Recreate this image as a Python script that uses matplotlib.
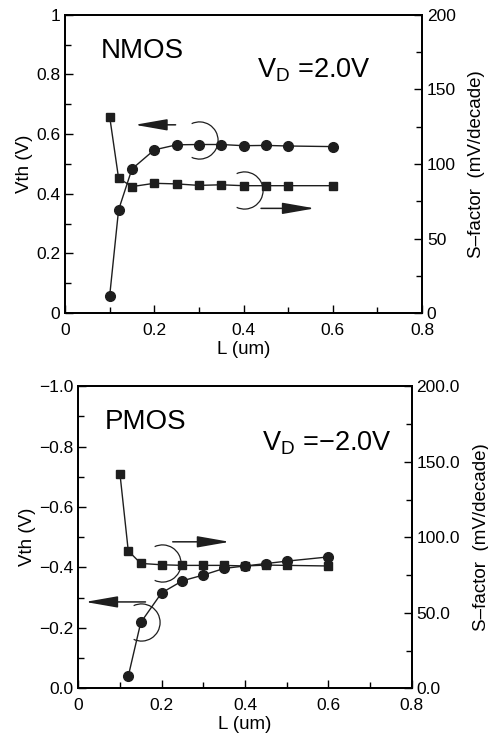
import matplotlib
matplotlib.use("Agg")
import matplotlib.pyplot as plt
from matplotlib.path import Path
from matplotlib.ticker import MultipleLocator, FormatStrFormatter

plt.rcParams['font.family'] = ['Liberation Sans', 'DejaVu Sans']
plt.rcParams['mathtext.default'] = 'regular'

# NMOS data
L_n = [0.1, 0.12, 0.15, 0.2, 0.25, 0.3, 0.35, 0.4, 0.45, 0.5, 0.6]
vth_n = [0.057, 0.346, 0.483, 0.547, 0.564, 0.565, 0.565, 0.561, 0.562, 0.560, 0.558]
s_n = [131.7, 90.4, 84.8, 87.0, 86.6, 85.6, 86.0, 85.4, 85.4, 85.4, 85.4]

# PMOS data
L_p_vth = [0.12, 0.15, 0.2, 0.25, 0.3, 0.35, 0.4, 0.45, 0.5, 0.6]
vth_p = [-0.04, -0.218, -0.316, -0.356, -0.375, -0.397, -0.405, -0.413, -0.421, -0.435]
L_p_s = [0.1, 0.12, 0.15, 0.2, 0.25, 0.3, 0.35, 0.4, 0.45, 0.5, 0.6]
s_p = [142.2, 91.0, 82.7, 81.8, 81.4, 81.4, 81.4, 81.0, 81.6, 81.4, 81.0]

col = '#1e1e1e'
arc = Path.arc(-115, 115)
MINUS = '\u2212'

fig = plt.figure(figsize=(4.89, 7.35), dpi=100)


def style(ax, ax2):
    for a in (ax, ax2):
        for s in a.spines.values():
            s.set_linewidth(1.3)
    ax.tick_params(which='both', direction='in', top=False, right=False, labelsize=12.5)
    ax.tick_params(which='major', length=6, width=1)
    ax.tick_params(which='minor', length=4, width=1)
    ax.tick_params(axis='x', pad=7)
    ax2.tick_params(which='both', direction='in', labelsize=12.5)
    ax2.tick_params(which='major', length=6, width=1)
    ax2.tick_params(which='minor', length=4, width=1)
    ax.set_xlim(0, 0.8)
    ax.xaxis.set_major_locator(MultipleLocator(0.2))
    ax.xaxis.set_minor_locator(MultipleLocator(0.1))
    ax.xaxis.set_major_formatter(lambda v, p: '0' if v == 0 else '%.1f' % v)
    ax.set_xlabel('L (um)', fontsize=13.5, labelpad=2)
    ax.set_ylabel('Vth (V)', fontsize=13.5, labelpad=2)
    ax2.set_ylabel('S\u2013factor  (mV/decade)', fontsize=13.5, labelpad=9)


# ---- NMOS ----
ax = fig.add_axes([0.133, 0.574, 0.730, 0.406])
ax2 = ax.twinx()
ax.plot(L_n, vth_n, '-o', color=col, lw=1, ms=7)
ax2.plot(L_n, s_n, '-s', color=col, lw=1, ms=6)
ax.set_ylim(0, 1)
ax.yaxis.set_major_locator(MultipleLocator(0.2))
ax.yaxis.set_minor_locator(MultipleLocator(0.1))
ax.yaxis.set_major_formatter(lambda v, p: '%g' % round(v, 1))
ax2.set_ylim(0, 200)
ax2.yaxis.set_major_locator(MultipleLocator(50))
ax2.yaxis.set_minor_locator(MultipleLocator(25))
style(ax, ax2)
ax.text(0.08, 0.88, 'NMOS', fontsize=20, va='center', ha='left')
ax.text(0.43, 0.815, r'$V_D$ =2.0V', fontsize=19.5, va='center', ha='left')
ax.plot(L_n[5], vth_n[5] + 0.015, marker=arc, ms=27, mfc='none', mec=col, mew=0.9)
ax2.plot(L_n[7], s_n[7] - 3, marker=arc, ms=27, mfc='none', mec=col, mew=0.9)
arw = dict(arrowstyle='-|>,head_length=2.0,head_width=0.35', color=col, lw=1.1)
ax.annotate('', xy=(0.15, 0.631), xytext=(0.254, 0.631), arrowprops=arw)
ax.annotate('', xy=(0.566, 0.351), xytext=(0.433, 0.351), arrowprops=arw)

# ---- PMOS ----
bx = fig.add_axes([0.160, 0.0635, 0.682, 0.411])
bx2 = bx.twinx()
bx.plot(L_p_vth, vth_p, '-o', color=col, lw=1, ms=7)
bx2.plot(L_p_s, s_p, '-s', color=col, lw=1, ms=6)
bx.set_ylim(0, -1.0)
bx.yaxis.set_major_locator(MultipleLocator(0.2))
bx.yaxis.set_minor_locator(MultipleLocator(0.1))
bx.yaxis.set_major_formatter(lambda v, p: ('%.1f' % v).replace('-', MINUS) if abs(v) > 1e-9 else '0.0')
bx2.set_ylim(0, 200)
bx2.yaxis.set_major_locator(MultipleLocator(50))
bx2.yaxis.set_minor_locator(MultipleLocator(25))
bx2.yaxis.set_major_formatter(FormatStrFormatter('%.1f'))
style(bx, bx2)
bx.text(0.064, -0.882, 'PMOS', fontsize=20, va='center', ha='left')
bx.text(0.44, -0.811, '$V_D$ =' + MINUS + '2.0V', fontsize=19.5, va='center', ha='left')
bx2.plot(L_p_s[3], s_p[3] + 1.5, marker=arc, ms=27, mfc='none', mec=col, mew=0.9)
bx.plot(L_p_vth[1], vth_p[1], marker=arc, ms=27, mfc='none', mec=col, mew=0.9)
bx.annotate('', xy=(0.37, -0.485), xytext=(0.22, -0.485), arrowprops=arw)
bx.annotate('', xy=(0.01, -0.286), xytext=(0.168, -0.286), arrowprops=arw)

fig.savefig('out.png', dpi=100)
